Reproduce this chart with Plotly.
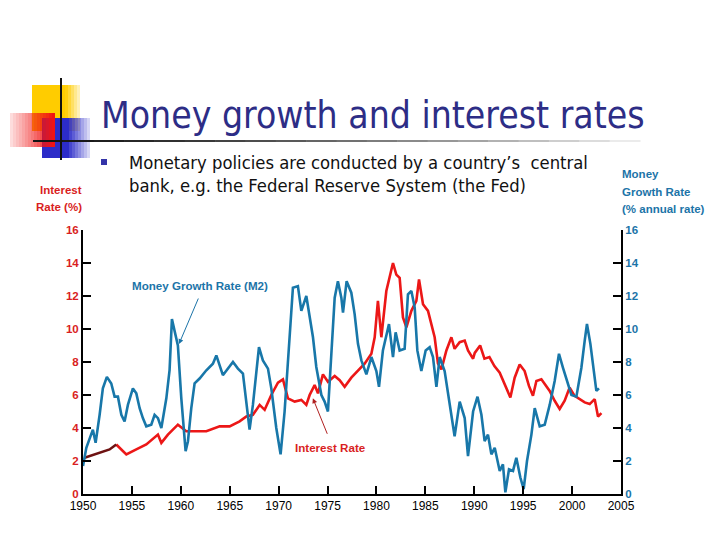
import plotly.graph_objects as go

# ---------------- data ----------------
m2_years = [1950.0, 1950.34, 1951.01, 1951.29, 1951.70, 1952.03, 1952.44, 1952.89, 1953.23, 1953.57,
            1953.92, 1954.25, 1954.59, 1955.10, 1955.45, 1955.79, 1956.12, 1956.47, 1956.98, 1957.32,
            1957.66, 1958.01, 1958.52, 1958.85, 1959.09, 1959.37, 1959.70, 1960.05, 1960.49, 1960.73,
            1961.07, 1961.41, 1961.92, 1962.61, 1963.28, 1963.63, 1964.30, 1965.33, 1965.84, 1966.35,
            1966.70, 1967.03, 1967.37, 1967.99, 1968.39, 1968.91, 1969.25, 1969.76, 1970.20, 1970.61,
            1971.12, 1971.46, 1971.97, 1972.32, 1972.83, 1973.17, 1973.51, 1973.85, 1974.37, 1974.70,
            1975.04, 1975.39, 1975.73, 1976.06, 1976.41, 1976.58, 1976.95, 1977.43, 1977.77, 1978.11,
            1978.46, 1978.97, 1979.48, 1979.99, 1980.26, 1980.66, 1981.28, 1981.69, 1981.96, 1982.37,
            1982.88, 1983.22, 1983.57, 1983.91, 1984.18, 1984.59, 1985.03, 1985.44, 1985.78, 1986.13,
            1986.46, 1986.97, 1987.48, 1987.99, 1988.51, 1989.02, 1989.36, 1989.88, 1990.33, 1990.73,
            1991.06, 1991.40, 1991.75, 1992.09, 1992.60, 1992.93, 1993.18, 1993.55, 1993.96, 1994.30,
            1994.71, 1995.05, 1995.39, 1995.84, 1996.18, 1996.69, 1997.20, 1997.71, 1998.22, 1998.66,
            1999.07, 1999.58, 1999.93, 2000.44, 2000.95, 2001.29, 2001.52, 2001.87, 2002.21, 2002.48,
            2002.75]
m2_values = [1.7, 2.8, 3.9, 3.1, 4.8, 6.4, 7.1, 6.7, 5.9, 5.9,
             4.8, 4.4, 5.4, 6.4, 6.1, 5.2, 4.6, 4.1, 4.2, 4.8,
             4.6, 4.0, 5.8, 7.5, 10.6, 9.8, 9.0, 5.8, 2.6, 3.2,
             5.2, 6.7, 7.0, 7.5, 7.9, 8.4, 7.2, 8.0, 7.6, 7.3,
             5.4, 3.9, 5.4, 8.9, 8.1, 7.6, 6.4, 4.0, 2.4, 5.0,
             9.5, 12.5, 12.6, 11.1, 12.0, 10.7, 9.5, 7.7, 6.0, 5.6,
             5.0, 8.5, 11.9, 12.9, 11.9, 11.0, 12.9, 12.2, 10.9, 9.1,
             8.1, 7.25, 8.3, 7.45, 6.5, 8.7, 10.3, 8.3, 9.8, 8.7,
             8.8, 12.1, 12.3, 11.3, 8.7, 7.45, 8.7, 8.9, 8.3, 6.5,
             8.3, 7.45, 5.4, 3.5, 5.6, 4.6, 2.3, 5.0, 5.9, 4.8,
             3.2, 3.6, 2.4, 2.8, 1.4, 1.8, 0.1, 1.5, 1.4, 2.2,
             1.0, 0.3, 2.0, 3.6, 5.2, 4.1, 4.2, 5.4, 6.85, 8.5,
             7.65, 6.65, 6.0, 5.9, 7.65, 9.3, 10.3, 9.1, 7.65, 6.25,
             6.4]

rate_early_years = [1950.16, 1950.90, 1951.70, 1952.72, 1953.40]
rate_early_values = [2.2, 2.35, 2.5, 2.7, 3.0]

rate_years = [1953.40, 1954.43, 1955.45, 1956.47, 1957.66, 1958.01, 1958.68, 1959.70, 1960.56, 1961.58,
              1962.61, 1963.97, 1964.99, 1966.01, 1966.70, 1967.37, 1968.06, 1968.57, 1969.25, 1969.93,
              1970.44, 1970.95, 1971.64, 1972.32, 1972.83, 1973.17, 1973.68, 1974.02, 1974.53, 1975.04,
              1975.73, 1976.24, 1976.75, 1977.43, 1978.11, 1978.79, 1979.48, 1979.82, 1980.15, 1980.50,
              1981.01, 1981.69, 1982.03, 1982.37, 1982.71, 1983.06, 1983.57, 1984.08, 1984.35, 1984.76,
              1985.27, 1985.61, 1985.95, 1986.29, 1986.64, 1987.15, 1987.66, 1987.99, 1988.51, 1989.02,
              1989.36, 1989.88, 1990.05, 1990.60, 1991.04, 1991.55, 1992.06, 1992.60, 1993.11, 1993.69,
              1994.13, 1994.64, 1995.15, 1995.59, 1996.00, 1996.35, 1996.86, 1997.37, 1997.71, 1998.22,
              1998.73, 1999.24, 1999.75, 2000.26, 2000.77, 2001.29, 2001.80, 2002.31, 2002.65, 2003.0]
rate_values = [3.0, 2.4, 2.7, 3.0, 3.6, 3.1, 3.6, 4.2, 3.8, 3.8,
               3.8, 4.1, 4.1, 4.4, 4.7, 4.8, 5.4, 5.1, 6.0, 6.75,
               6.95, 5.8, 5.6, 5.7, 5.4, 6.0, 6.6, 6.1, 7.25, 6.8,
               7.15, 6.9, 6.5, 7.05, 7.45, 7.9, 8.5, 9.5, 11.7, 9.5,
               12.3, 14.0, 13.3, 13.1, 10.7, 10.1, 11.1, 11.7, 13.0, 11.5,
               11.1, 10.3, 9.5, 7.9, 7.55, 8.7, 9.5, 8.8, 9.2, 9.3,
               8.7, 8.2, 8.55, 9.0, 8.2, 8.3, 7.75, 7.35, 6.65, 5.85,
               7.05, 7.85, 7.45, 6.55, 5.95, 6.85, 6.95, 6.55, 6.25, 5.65,
               5.15, 5.65, 6.45, 5.95, 5.75, 5.55, 5.45, 5.75, 4.7, 4.9]

x_ticks = [1950, 1955, 1960, 1965, 1970, 1975, 1980, 1985, 1990, 1995, 2000, 2005]
y_ticks = [0, 2, 4, 6, 8, 10, 12, 14, 16]

title_text = "Money growth and interest rates"
bullet_lines = ["Monetary policies are conducted by a country\u2019s  central",
                "bank, e.g. the Federal Reserve System (the Fed)"]
left_axis_title = ["Interest", "Rate (%)"]
right_axis_title = ["Money", "Growth Rate", "(% annual rate)"]
m2_label = "Money Growth Rate (M2)"
rate_label = "Interest Rate"

# ---------------- styling ----------------
BLUE = "#1877a9"
RED = "#ec1717"
DARKRED = "#6e1212"
LBL_BLUE = "#1c74a8"
LBL_RED = "#d91e22"
NAVY = "#2d2d86"
NARROW = "Liberation Sans Narrow, Arial Narrow, Liberation Sans, sans-serif"
SLIDE = "DejaVu Sans Condensed, DejaVu Sans, sans-serif"

# the page body has an 8px margin: the figure is 712x532 placed at (8, 8)
FW, FH = 712, 532
L, R, T, B = 75, 99, 222, 46
W = FW - L - R
H = FH - T - B
OFF = 8


def px(x):  # screen pixel -> paper
    return (x - OFF - L) / W


def py(y):
    return (FH - B - (y - OFF)) / H


fig = go.Figure()
fig.add_trace(go.Scatter(x=m2_years, y=m2_values, mode="lines", yaxis="y2",
                         line=dict(color=BLUE, width=2.6), hoverinfo="skip"))
fig.add_trace(go.Scatter(x=rate_years, y=rate_values, mode="lines",
                         line=dict(color=RED, width=2.6), hoverinfo="skip"))
fig.add_trace(go.Scatter(x=rate_early_years, y=rate_early_values, mode="lines",
                         line=dict(color=DARKRED, width=2.6), hoverinfo="skip"))

shapes = []
# yellow square with fade
for i in range(16):
    x0 = 32 + i * 3
    a = 1.0 if x0 < 64 else max(0.0, 1 - (x0 - 64) / 18)
    shapes.append(dict(type="rect", xref="paper", yref="paper", x0=px(x0), x1=px(x0 + 3),
                       y0=py(131), y1=py(85), line=dict(width=0),
                       fillcolor=f"rgba(255,204,0,{a:.2f})", layer="above"))
# blue square with fade
for i in range(16):
    x0 = 42 + i * 3
    a = 1.0 if x0 < 66 else max(0.0, 1 - (x0 - 66) / 26)
    shapes.append(dict(type="rect", xref="paper", yref="paper", x0=px(x0), x1=px(x0 + 3),
                       y0=py(158), y1=py(118), line=dict(width=0),
                       fillcolor=f"rgba(44,44,200,{a:.2f})", layer="above"))
# red square with gradient (light left -> strong right)
for i in range(15):
    x0 = 10 + i * 3
    a = 0.15 + 0.85 * (i / 14)
    shapes.append(dict(type="rect", xref="paper", yref="paper", x0=px(x0), x1=px(x0 + 3),
                       y0=py(147), y1=py(113), line=dict(width=0),
                       fillcolor=f"rgba(240,20,20,{a:.2f})", layer="above"))
# horizontal rule with fade
segs = 20
for i in range(segs):
    x0 = 33 + i * (607 / segs)
    g = int(20 + 215 * (i / (segs - 1)) ** 1.3)
    shapes.append(dict(type="line", xref="paper", yref="paper", x0=px(x0), x1=px(x0 + 607 / segs + 0.5),
                       y0=py(141), y1=py(141), line=dict(color=f"rgb({g},{g},{g})", width=2),
                       layer="above"))
# vertical rule
shapes.append(dict(type="line", xref="paper", yref="paper", x0=px(61), x1=px(61),
                   y0=py(78), y1=py(160), line=dict(color="#111111", width=2), layer="above"))
# bullet
shapes.append(dict(type="rect", xref="paper", yref="paper", x0=px(101), x1=px(107),
                   y0=py(165), y1=py(159), line=dict(width=0), fillcolor="#3434a8", layer="above"))

annotations = [
    dict(text=title_text, xref="paper", yref="paper", x=px(99), y=py(116), xanchor="left",
         yanchor="middle", showarrow=False, font=dict(family=SLIDE, size=37, color=NAVY)),
    dict(text=bullet_lines[0], xref="paper", yref="paper", x=px(127), y=py(162), xanchor="left",
         yanchor="middle", showarrow=False, font=dict(family=SLIDE, size=18.3, color="#111111")),
    dict(text=bullet_lines[1], xref="paper", yref="paper", x=px(127), y=py(185), xanchor="left",
         yanchor="middle", showarrow=False, font=dict(family=SLIDE, size=18.3, color="#111111")),
]
for i, t in enumerate(left_axis_title):
    annotations.append(dict(text=t, xref="paper", yref="paper", x=px(84), y=py(190 + 17 * i),
                            xanchor="right", yanchor="middle", showarrow=False,
                            font=dict(family=NARROW, size=11.5, color=LBL_RED, weight="bold")))
for i, t in enumerate(right_axis_title):
    annotations.append(dict(text=t, xref="paper", yref="paper", x=px(620), y=py(174 + 17.5 * i),
                            xanchor="left", yanchor="middle", showarrow=False,
                            font=dict(family=NARROW, size=11.5, color=LBL_BLUE, weight="bold")))
annotations.append(dict(text=m2_label, xref="paper", yref="paper", x=px(200), y=py(285),
                        xanchor="center", yanchor="middle", showarrow=False,
                        font=dict(family=NARROW, size=11.6, color=LBL_BLUE, weight="bold")))
annotations.append(dict(text=rate_label, xref="paper", yref="paper", x=px(330.5), y=py(447),
                        xanchor="center", yanchor="middle", showarrow=False,
                        font=dict(family=NARROW, size=11.6, color=LBL_RED, weight="bold")))
# pointer arrows
annotations.append(dict(text="", x=1959.81, y=9.09, xref="x", yref="y", ax=20, ay=-47,
                        showarrow=True, arrowhead=2, arrowsize=1, arrowwidth=1, arrowcolor=LBL_BLUE))
annotations.append(dict(text="", x=1973.5, y=5.8, xref="x", yref="y", ax=15, ay=37,
                        showarrow=True, arrowhead=2, arrowsize=1, arrowwidth=1, arrowcolor="#b02020"))

axis_common = dict(ticks="inside", ticklen=8, tickwidth=1.5, tickcolor="black",
                   showline=True, linewidth=2, linecolor="black", showgrid=False, zeroline=False)

fig.update_layout(
    width=FW, height=FH, autosize=False,
    margin=dict(l=L, r=R, t=T, b=B, pad=0),
    paper_bgcolor="white", plot_bgcolor="white",
    showlegend=False,
    xaxis=dict(range=[1950, 2005], tickvals=x_ticks, ticktext=[str(v) for v in x_ticks],
               tickfont=dict(family=NARROW, size=12, color="black"), **axis_common),
    yaxis=dict(range=[0, 16], tickvals=y_ticks,
               tickfont=dict(family=NARROW, size=11.5, color=LBL_RED, weight="bold"), **axis_common),
    yaxis2=dict(range=[0, 16], tickvals=y_ticks, overlaying="y", side="right",
                tickfont=dict(family=NARROW, size=11.5, color=LBL_BLUE, weight="bold"), **axis_common),
    shapes=shapes,
    annotations=annotations,
)

fig.write_html("out.html")
